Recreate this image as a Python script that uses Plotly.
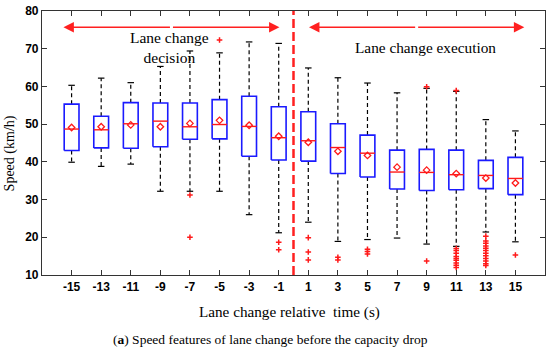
import plotly.graph_objects as go

times = [-15, -13, -11, -9, -7, -5, -3, -1, 1, 3, 5, 7, 9, 11, 13, 15]
q1 = [43.0, 43.7, 43.6, 44.0, 46.0, 46.1, 41.5, 40.5, 40.2, 36.9, 36.0, 32.8, 32.4, 32.6, 32.9, 31.3]
median = [48.7, 48.5, 50.1, 50.8, 49.3, 49.9, 49.4, 46.4, 45.6, 43.8, 42.3, 37.3, 37.2, 36.6, 36.4, 35.6]
q3 = [55.3, 52.1, 55.7, 55.6, 55.6, 56.5, 57.4, 54.6, 53.3, 50.1, 47.1, 43.1, 43.3, 43.1, 40.4, 41.2]
mean = [49.1, 49.3, 49.8, 49.3, 50.2, 51.0, 49.7, 46.8, 45.2, 42.8, 41.7, 38.6, 37.8, 36.9, 35.7, 34.4]
lower = [39.9, 38.8, 39.4, 32.2, 32.2, 32.2, 26.0, 21.2, 24.0, 18.9, 19.4, 19.8, 18.2, 17.6, 21.4, 18.8]
upper = [60.3, 62.2, 61.0, 65.3, 69.4, 68.9, 71.8, 71.4, 64.9, 62.3, 60.9, 58.3, 59.5, 58.7, 51.2, 48.2]

outlier_times = [-7, -7, -5, -1, -1, 1, 1, 1, 3, 3, 5, 5, 5, 9, 9,
                 11, 11, 11, 11, 11, 11, 11, 11, 11, 11,
                 13, 13, 13, 13, 13, 13, 13, 13, 13, 13, 13, 13, 15]
outlier_speeds = [31.2, 20.0, 72.3, 18.7, 16.7, 19.9, 16.1, 14.0, 14.7, 14.0, 16.8, 16.2, 15.6, 59.9, 13.7,
                  58.9, 17.0, 16.5, 15.8, 14.9, 14.4, 13.9, 13.2, 12.6, 12.0,
                  20.3, 19.0, 18.4, 17.7, 17.1, 16.5, 15.8, 15.1, 14.4, 13.7, 13.0, 12.5, 15.3]

tick_vals = times
tick_text = [str(t) for t in times]

BOX_HW = 0.5
CAP_HW = 0.22

fig = go.Figure()

# whiskers (dashed black)
wx, wy = [], []
for t, a, b, lo, hi in zip(times, q1, q3, lower, upper):
    wx += [t, t, None, t, t, None]
    wy += [b, hi, None, a, lo, None]
fig.add_trace(go.Scatter(x=wx, y=wy, mode="lines",
                         line=dict(color="black", width=1.2, dash="4px,3px"),
                         hoverinfo="skip", showlegend=False))
# caps
cx, cy = [], []
for t, lo, hi in zip(times, lower, upper):
    cx += [t - CAP_HW, t + CAP_HW, None, t - CAP_HW, t + CAP_HW, None]
    cy += [hi, hi, None, lo, lo, None]
fig.add_trace(go.Scatter(x=cx, y=cy, mode="lines",
                         line=dict(color="black", width=1.2),
                         hoverinfo="skip", showlegend=False))
# boxes
bx, by = [], []
for t, a, b in zip(times, q1, q3):
    bx += [t - BOX_HW, t + BOX_HW, t + BOX_HW, t - BOX_HW, t - BOX_HW, None]
    by += [a, a, b, b, a, None]
fig.add_trace(go.Scatter(x=bx, y=by, mode="lines",
                         line=dict(color="#1a1aff", width=1.6),
                         hoverinfo="skip", showlegend=False))
# medians
mx, my = [], []
for t, m in zip(times, median):
    mx += [t - BOX_HW, t + BOX_HW, None]
    my += [m, m, None]
fig.add_trace(go.Scatter(x=mx, y=my, mode="lines",
                         line=dict(color="#ff1a1a", width=1.4),
                         hoverinfo="skip", showlegend=False))
# means
fig.add_trace(go.Scatter(x=times, y=mean, mode="markers",
                         marker=dict(symbol="diamond-open", color="#ff1a1a", size=5,
                                     line=dict(width=1.3, color="#ff1a1a")),
                         showlegend=False))
# outliers
fig.add_trace(go.Scatter(x=outlier_times, y=outlier_speeds, mode="markers",
                         marker=dict(symbol="cross-thin-open", color="#ff1a1a", size=4,
                                     line=dict(width=1.5, color="#ff1a1a")),
                         showlegend=False))

# separating dashed line at t = 0
fig.add_shape(type="line", x0=0, x1=0, y0=10, y1=80, xref="x", yref="y",
              line=dict(color="#ff2020", width=2.5, dash="9px,4px"))

# arrows
arrow_y = 75.7
for x0, x1 in [(-15.55, -0.95), (1.05, 15.6)]:
    for tail, head in [(x0, x1), (x1, x0)]:
        fig.add_annotation(x=head, y=arrow_y, ax=(tail + head) / 2, ay=arrow_y,
                           xref="x", yref="y", axref="x", ayref="y",
                           showarrow=True, arrowhead=2, arrowsize=1.3, arrowwidth=1.6,
                           arrowcolor="#ff2020", text="")

serif = "Liberation Serif, Times New Roman, serif"
fig.add_annotation(x=-8.4, y=70.3, xref="x", yref="y", text="Lane change<br>decision",
                   showarrow=False, font=dict(family=serif, size=15.5, color="black"))
fig.add_annotation(x=8.95, y=70.3, xref="x", yref="y", text="Lane change execution",
                   showarrow=False, font=dict(family=serif, size=15.3, color="black"))

fig.add_annotation(x=-0.0645, y=0.459, xref="paper", yref="paper", text="Speed (km/h)",
                   textangle=-90, showarrow=False, xanchor="center", yanchor="middle",
                   font=dict(family=serif, size=14, color="black"))
fig.add_annotation(x=0.492, y=-0.1405, xref="paper", yref="paper",
                   text="Lane change relative  time (s)",
                   showarrow=False, xanchor="center", yanchor="middle",
                   font=dict(family=serif, size=15.2, color="black"))
fig.add_annotation(x=0.454, y=-0.245, xref="paper", yref="paper",
                   text="(<b>a</b>) Speed features of lane change before the capacity drop",
                   showarrow=False, xanchor="center", yanchor="middle",
                   font=dict(family=serif, size=13.5, color="black"))

axis_font = dict(family="Liberation Sans, Arial, sans-serif", size=12, color="black", weight="bold")
fig.update_xaxes(range=[-17, 17], tickvals=tick_vals, ticktext=tick_text,
                 ticks="inside", ticklen=5, tickwidth=1, tickcolor="#333",
                 showline=True, linecolor="#333", linewidth=1.2, mirror="ticks",
                 showgrid=False, zeroline=False, tickfont=axis_font)
fig.update_yaxes(range=[10, 80], dtick=10,
                 ticks="inside", ticklen=5, tickwidth=1, tickcolor="#333",
                 showline=True, linecolor="#333", linewidth=1.2, mirror="ticks",
                 showgrid=False, zeroline=False, tickfont=axis_font)

fig.update_layout(width=550, height=353, margin=dict(l=42, r=4, t=8, b=78),
                  paper_bgcolor="white", plot_bgcolor="white")

fig.write_html("out.html", config={"displayModeBar": False},
               post_script="document.body.style.margin='0';")
